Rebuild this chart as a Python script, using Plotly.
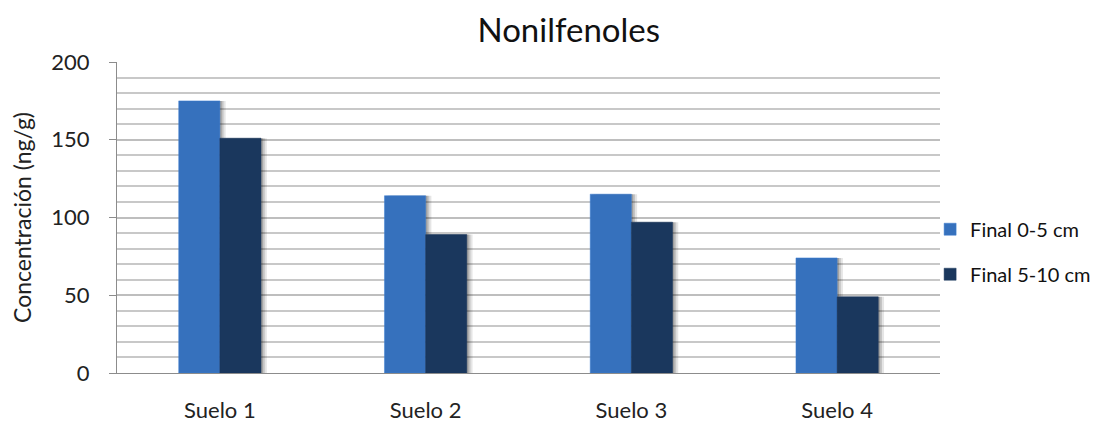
import plotly.graph_objects as go

categories = ["Suelo 1", "Suelo 2", "Suelo 3", "Suelo 4"]
final_0_5 = [175, 114, 115, 74]
final_5_10 = [151, 89, 97, 49]
y_ticks = [0, 50, 100, 150, 200]

FONT = "Lato, 'Open Sans', sans-serif"
BAR_W = 0.2

fig = go.Figure()

# soft drop shadows (derived from the same data)
for vals, off in ((final_0_5, -BAR_W), (final_5_10, 0.0)):
    for dx, alpha in ((0.028, 0.10), (0.018, 0.14), (0.009, 0.18)):
        fig.add_trace(go.Bar(
            x=categories, y=vals, offset=off + dx, width=BAR_W,
            marker=dict(color=f"rgba(0,0,0,{alpha})", line=dict(width=0)),
            showlegend=False, hoverinfo="skip",
        ))

fig.add_trace(go.Bar(
    x=categories, y=final_0_5, name="Final 0-5 cm", offset=-BAR_W, width=BAR_W,
    marker=dict(color="#3671BD", line=dict(color="#3A7DD0", width=0.5)),
    legendgroup="a",
))
fig.add_trace(go.Bar(
    x=categories, y=final_5_10, name="Final 5-10 cm", offset=0.0, width=BAR_W,
    marker=dict(color="#1A375D", line=dict(color="#1A375D", width=0.5)),
    legendgroup="b",
))

fig.update_layout(
    width=1091, height=417,
    paper_bgcolor="white", plot_bgcolor="white",
    margin=dict(l=109, r=159, t=54, b=52, autoexpand=False),
    barmode="overlay",
    title=dict(text="Nonilfenoles", x=0.514, xanchor="center", y=0.947, yanchor="middle",
               font=dict(family=FONT, size=33, color="#111111")),
    font=dict(family=FONT, color="#222222"),
    legend=dict(x=0.988, xanchor="left", y=0.39, yanchor="middle",
                font=dict(family=FONT, size=20, color="#111111"),
                tracegroupgap=16, bgcolor="rgba(0,0,0,0)"),
    xaxis=dict(showline=True, linecolor="#8C8C8C", linewidth=1, automargin=False,
               tickfont=dict(family=FONT, size=22, color="#222222"),
               ticks="", showgrid=False, ticklabelstandoff=18),
    yaxis=dict(range=[0, 200], tickvals=y_ticks, showline=True, linecolor="#8C8C8C",
               linewidth=1, ticks="outside", ticklen=7, tickcolor="#8C8C8C",
               ticklabelstandoff=15, automargin=False,
               showgrid=True, gridcolor="#BEBEBE", gridwidth=1.5,
               minor=dict(dtick=10, showgrid=True, gridcolor="#C8C8C8", gridwidth=1.5),
               tickfont=dict(family=FONT, size=22, color="#222222"),
               title=dict(text="Concentración (ng/g)", standoff=26,
                          font=dict(family=FONT, size=23, color="#222222"))),
)

fig.write_html("out.html")
